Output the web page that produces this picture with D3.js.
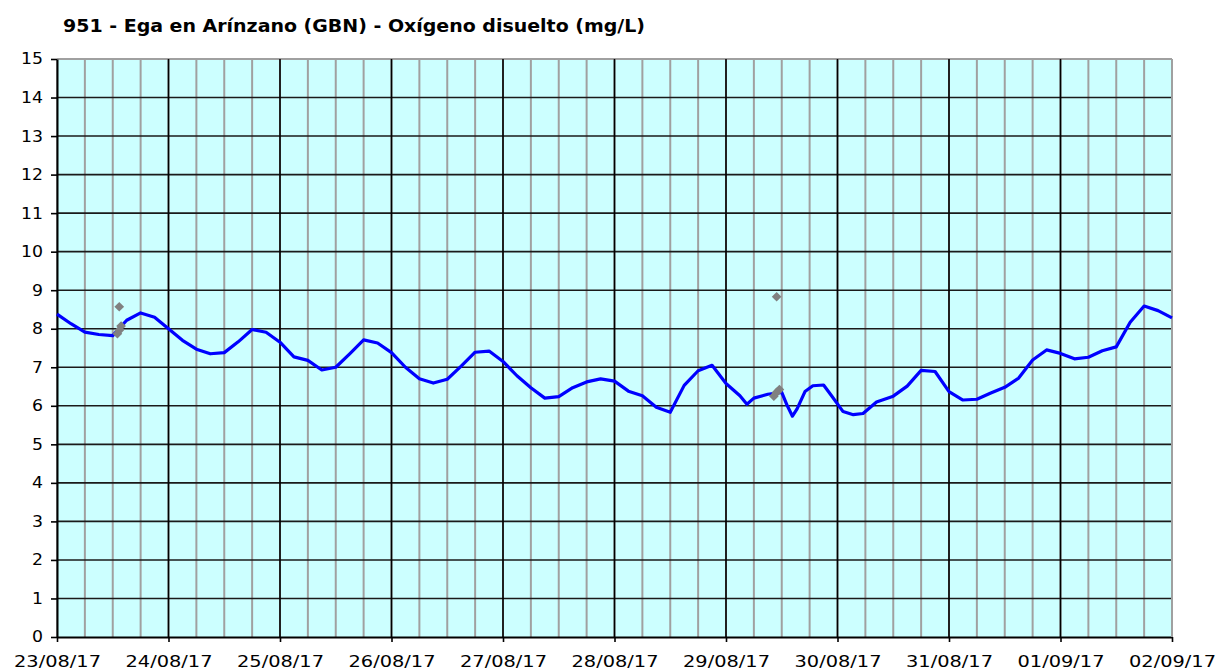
<!DOCTYPE html>
<html>
<head>
<meta charset="utf-8">
<script src="https://cdn.jsdelivr.net/npm/d3@7"></script>
<style>
  body { margin: 0; background: #fff; }
  text { font-family: Verdana, "DejaVu Sans", sans-serif; fill: #000; }
</style>
</head>
<body>
<div id="chart"></div>
<script>
const title = "951 - Ega en Arínzano (GBN) - Oxígeno disuelto (mg/L)";
const startDate = Date.UTC(2017, 7, 23);

// hours since 23/08/17 00:00 and dissolved oxygen (mg/L)
const hours = [0, 3, 6, 9, 12, 15, 18, 21, 24, 27, 30, 33, 36, 39, 42, 45, 48, 51, 54, 57,
    60, 63, 66, 69, 72, 75, 78, 81, 84, 87, 90, 93, 96, 99, 102, 105, 108, 111, 114, 117,
    120, 123, 126, 129, 132, 135, 138, 141, 144, 147, 148.5, 150, 153, 156, 157.2, 158.3, 159.3,
    161, 162.7, 165, 166.6, 169.2, 171.4, 173.5, 176.4, 180, 183, 186, 189, 192, 195, 198,
    201, 204, 207, 210, 213, 216, 219, 222, 225, 228, 231, 234, 237, 240];
const oxygen = [8.38, 8.13, 7.91, 7.85, 7.82, 8.22, 8.41, 8.30, 8.00, 7.70, 7.47, 7.35, 7.38, 7.66, 7.98, 7.91, 7.65, 7.27, 7.18, 6.93,
    7.00, 7.35, 7.71, 7.63, 7.38, 7.00, 6.70, 6.59, 6.69, 7.03, 7.39, 7.42, 7.15, 6.78, 6.47, 6.20, 6.24, 6.47, 6.62, 6.70,
    6.64, 6.38, 6.26, 5.96, 5.83, 6.53, 6.91, 7.05, 6.58, 6.26, 6.04, 6.20, 6.30, 6.35, 6.00, 5.73, 5.92,
    6.37, 6.52, 6.54, 6.28, 5.85, 5.77, 5.80, 6.10, 6.25, 6.51, 6.92, 6.89, 6.37, 6.15, 6.17,
    6.33, 6.48, 6.72, 7.19, 7.45, 7.36, 7.22, 7.26, 7.43, 7.53, 8.17, 8.59, 8.47, 8.28];

// isolated grey readings
const spikeHours = [13.0, 13.4, 13.8, 13.4, 154.3, 154.9, 155.5, 154.9];
const spikeValues = [7.87, 7.96, 8.07, 8.57, 6.25, 6.35, 6.42, 8.83];

const yTicks = d3.range(0, 16);

const width = 1216;
const height = 670;
const margin = { top: 59, right: 44, bottom: 33, left: 57 };

const x = d3.scaleUtc()
    .domain([new Date(startDate), new Date(startDate + 240 * 3600e3)])
    .range([margin.left, width - margin.right]);
const y = d3.scaleLinear()
    .domain([0, 15])
    .range([height - margin.bottom, margin.top]);

const svg = d3.select("#chart").append("svg")
    .attr("width", width)
    .attr("height", height);

svg.append("rect")
    .attr("x", margin.left)
    .attr("y", margin.top)
    .attr("width", width - margin.left - margin.right)
    .attr("height", height - margin.top - margin.bottom)
    .attr("fill", "#ccffff");

const quarterTicks = x.ticks(d3.utcHour.every(6));
const dayTicks = x.ticks(d3.utcDay.every(1));

// light grey 6-hour lines
svg.append("g")
    .selectAll("line")
    .data(quarterTicks)
    .join("line")
    .attr("x1", d => x(d)).attr("x2", d => x(d))
    .attr("y1", margin.top).attr("y2", height - margin.bottom)
    .attr("stroke", "#a0a0a0")
    .attr("stroke-width", 2);

// top border
svg.append("line")
    .attr("x1", margin.left).attr("x2", width - margin.right)
    .attr("y1", y(15)).attr("y2", y(15))
    .attr("stroke", "#a0a0a0").attr("stroke-width", 2);

// horizontal grid
svg.append("g")
    .selectAll("line")
    .data(yTicks.filter(d => d > 0 && d < 15))
    .join("line")
    .attr("x1", margin.left).attr("x2", width - margin.right)
    .attr("y1", d => y(d)).attr("y2", d => y(d))
    .attr("stroke", "#1a1a1a")
    .attr("stroke-width", 1.6);

// day lines
svg.append("g")
    .selectAll("line")
    .data(dayTicks.slice(1, -1))
    .join("line")
    .attr("x1", d => x(d)).attr("x2", d => x(d))
    .attr("y1", margin.top).attr("y2", height - margin.bottom)
    .attr("stroke", "#000")
    .attr("stroke-width", 1.6);

// y axis
const yAxis = svg.append("g")
    .attr("transform", `translate(${margin.left},0)`)
    .call(d3.axisLeft(y).tickValues(yTicks).tickSize(6).tickSizeOuter(0).tickPadding(8));
yAxis.select(".domain").attr("stroke", "#000").attr("stroke-width", 2);
yAxis.selectAll(".tick line").attr("stroke", "#000").attr("stroke-width", 1.6);
yAxis.selectAll(".tick text")
    .attr("font-size", 15.5)
    .attr("font-family", "Verdana, 'DejaVu Sans', sans-serif")
    .attr("textLength", d => String(d).length * 11)
    .attr("lengthAdjust", "spacingAndGlyphs");

// x axis
const xAxis = svg.append("g")
    .attr("transform", `translate(0,${height - margin.bottom})`)
    .call(d3.axisBottom(x).tickValues(dayTicks).tickFormat(d3.utcFormat("%d/%m/%y"))
        .tickSize(5).tickSizeOuter(0).tickPadding(14));
xAxis.select(".domain").attr("stroke", "#000").attr("stroke-width", 2);
xAxis.selectAll(".tick line").attr("stroke", "#000").attr("stroke-width", 1.6);
xAxis.selectAll(".tick text")
    .attr("font-size", 15.5)
    .attr("font-family", "Verdana, 'DejaVu Sans', sans-serif")
    .attr("textLength", 87)
    .attr("lengthAdjust", "spacingAndGlyphs");

// right border over everything grid-like
svg.append("line")
    .attr("x1", width - margin.right).attr("x2", width - margin.right)
    .attr("y1", margin.top).attr("y2", height - margin.bottom)
    .attr("stroke", "#a0a0a0").attr("stroke-width", 2);

const series = hours.map((h, i) => ({ date: new Date(startDate + h * 3600e3), value: oxygen[i] }));
const line = d3.line()
    .x(d => x(d.date))
    .y(d => y(d.value));

svg.append("path")
    .datum(series)
    .attr("fill", "none")
    .attr("stroke", "#0000ff")
    .attr("stroke-width", 3.2)
    .attr("stroke-linejoin", "round")
    .attr("d", line);

const spikes = spikeHours.map((h, i) => ({ date: new Date(startDate + h * 3600e3), value: spikeValues[i] }));
svg.append("g")
    .selectAll("path")
    .data(spikes)
    .join("path")
    .attr("transform", d => `translate(${x(d.date)},${y(d.value)})`)
    .attr("d", d3.symbol(d3.symbolDiamond2, 60))
    .attr("fill", "#808080");

svg.append("text")
    .attr("x", 63)
    .attr("y", 32)
    .attr("font-size", 17.5)
    .attr("font-weight", "bold")
    .attr("textLength", 582)
    .attr("lengthAdjust", "spacingAndGlyphs")
    .text(title);
</script>
</body>
</html>
